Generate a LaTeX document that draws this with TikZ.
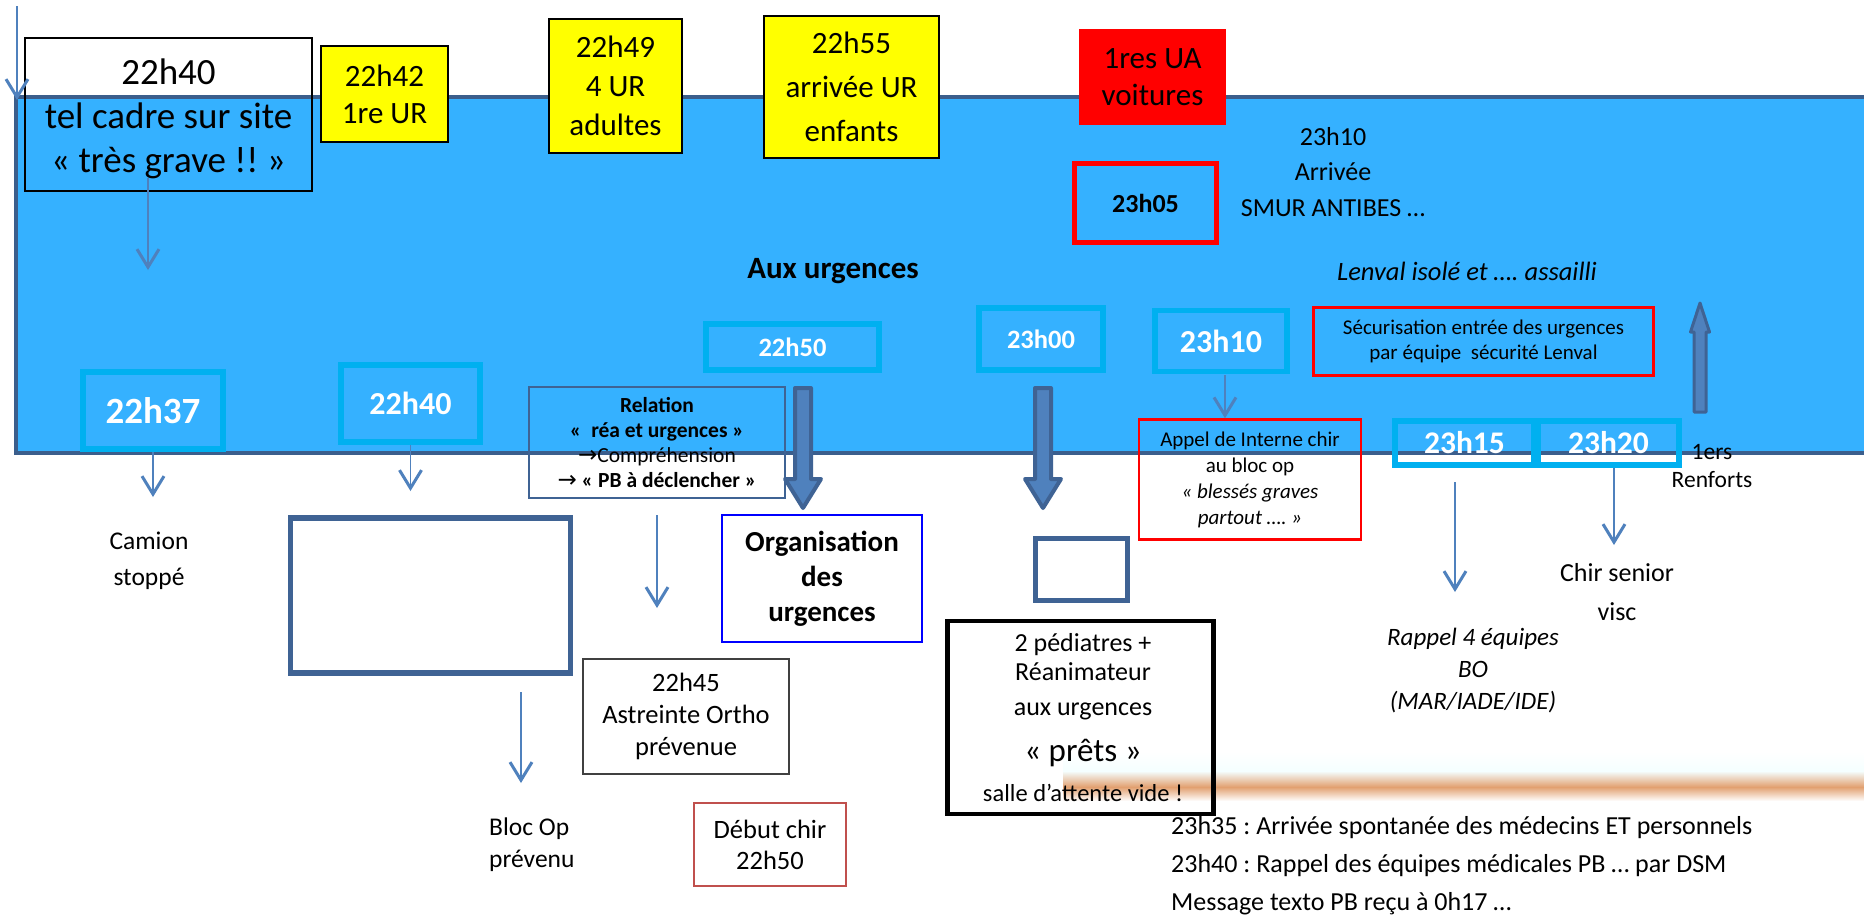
\documentclass[tikz,border=0pt]{standalone}
\usepackage{fontspec}
\setmainfont{Carlito}
\newfontfamily\dejavu{DejaVu Sans}
\usetikzlibrary{arrows.meta,calc}
\frenchspacing
\definecolor{bgblue}{RGB}{53,177,255}
\definecolor{rimblue}{RGB}{59,94,140}
\definecolor{cyanbox}{RGB}{0,176,240}
\definecolor{arrblue}{RGB}{79,129,189}
\definecolor{slate}{RGB}{63,99,148}
\definecolor{brickred}{RGB}{192,80,77}
\definecolor{bandor}{RGB}{226,160,112}
\definecolor{ygold}{RGB}{255,255,0}
\newcommand\fs[2]{\fontsize{#1}{#2}\selectfont}
\newcommand\rarr{{\dejavu\fontsize{23}{25}\selectfont →}}
\begin{document}
\begin{tikzpicture}[x=1pt,y=-1pt,
  bx/.style 2 args={minimum width=#1pt, minimum height=#2pt, inner sep=0pt, align=center},
  cb/.style={draw=cyanbox, line width=5.5pt, text=white},
  yb/.style={draw=black, fill=ygold, line width=1.6pt},
  txt/.style={inner sep=0pt, align=center},
  varrow/.style={draw=arrblue, line width=1.8pt, -{Straight Barb[length=18pt,width=22pt,line width=3pt]}},
  fatarrow/.pic={\draw[fill=arrblue, draw=slate, line width=4pt, line join=round]
     (-8,0) -- (-8,91) -- (-18,91) -- (0,120) -- (18,91) -- (8,91) -- (8,0) -- cycle;}
]
\useasboundingbox (0,0) rectangle (1864,916);
\clip (0,0) rectangle (1864,916);
\fill[white] (0,0) rectangle (1864,916);

% main blue area
\fill[bgblue] (16,97) rectangle (1875,453);
\draw[rimblue, line width=4.5pt] (1875,97) -- (16,97) -- (16,453) -- (1875,453);

% orange band
\shade[top color=white, bottom color=cyan!4] (1063,752) rectangle (1870,771);
\shade[top color=cyan!4, bottom color=bandor] (1063,771) rectangle (1870,787);
\shade[top color=bandor, bottom color=white] (1063,787) rectangle (1870,801);

% top boxes
\node[bx={287}{153}, draw=black, line width=1.3pt] (telcadre) at (168.5,114.5) {};
\node[txt, font=\fs{37}{44}] (telcadretxt) at (168.5,119) {22h40\\tel cadre sur site\\« très grave !! »};
\node[bx={127}{96}, yb, font=\fs{31}{37}] (ur1) at (384.5,94) {22h42\\1re UR};
\node[bx={133}{134}, yb, font=\fs{31}{39}] (ur4) at (615.5,86) {22h49\\4 UR\\adultes};
\node[bx={175}{142}, yb, font=\fs{31}{44}] (urenf) at (851.5,87) {22h55\\arrivée UR\\enfants};
\node[bx={147}{96}, fill=red, font=\fs{31}{37}] (ua) at (1152.5,77) {1res UA\\voitures};
\node[bx={142}{79}, draw=red, line width=5pt, font=\fs{26}{30}\bfseries] (h2305) at (1145.5,203) {23h05};
\node[txt, font=\fs{26}{35.5}] (smur) at (1333,172) {23h10\\Arrivée\\SMUR ANTIBES …};
\node[txt, font=\fs{26.5}{30}\itshape] (lenval) at (1467,271) {Lenval isolé et …. assailli};
\node[txt, font=\fs{31}{35}\bfseries] (auxurg) at (833,271) {Aux urgences};
\node[bx={340}{68}, draw=red, line width=3pt, font=\fs{21}{25}] (secu) at (1483.5,341.5) {Sécurisation entrée des urgences\\par équipe\ \ sécurité Lenval};

% cyan time boxes
\node[bx={140}{77}, cb, font=\fs{37}{44}\bfseries] (c2237) at (153,410.5) {22h37};
\node[bx={139}{77}, cb, font=\fs{32}{38}\bfseries] (c2240) at (410.5,403.5) {22h40};
\node[bx={173}{46}, cb, font=\fs{26.5}{32}\bfseries] (c2250) at (792.5,347) {22h50};
\node[bx={124}{62}, cb, font=\fs{26.5}{32}\bfseries] (c2300) at (1041,339) {23h00};
\node[bx={132}{61}, cb, font=\fs{32}{38}\bfseries] (c2310) at (1221,341) {23h10};
\node[bx={139}{44}, cb, font=\fs{31.5}{36}\bfseries] (c2315) at (1464.5,443) {23h15};
\node[bx={141}{44}, cb, font=\fs{31.5}{36}\bfseries] (c2320) at (1608.5,443) {23h20};

% relation box
\node[bx={256}{111}, draw=slate, line width=2.2pt, font=\fs{21.5}{25.3}] (relation) at (657,442.5)
  {\textbf{Relation}\\\textbf{«~ réa et urgences »}\\\rarr Compréhension\\\rarr\ \textbf{« PB à déclencher »}};

% thick arrows
\pic at (803,388) {fatarrow};
\pic at (1043,388) {fatarrow};
\draw[fill=arrblue, draw=slate, line width=3pt, line join=round]
  (1694,412) -- (1694,332) -- (1690.5,332) -- (1700,303) -- (1709.5,332) -- (1706,332) -- (1706,412) -- cycle;

% lower boxes
\node[bx={200}{127}, draw=blue, line width=2.5pt, fill=white, font=\fs{29}{35}\bfseries] (orga) at (822,578.5) {Organisation\\des\\urgences};
\node[bx={92}{62}, draw=slate, line width=5pt, fill=white] (smallbox) at (1081.5,569) {};
\node[bx={280}{155}, draw=slate, line width=5.5pt, fill=white] (emptybox) at (430.5,595.5) {};
\node[bx={206}{115}, draw=black!75, line width=1.6pt, font=\fs{26.5}{32}] (ortho) at (686,716.5) {22h45\\Astreinte Ortho\\prévenue};
\node[bx={152}{83}, draw=brickred, line width=2pt, font=\fs{26.5}{31}] (debut) at (770,844.5) {Début chir\\22h50};
\node[bx={266}{193}, draw=black, line width=4.5pt] (pedia) at (1080.5,717.5) {};
\node[txt, font=\fs{26}{28}] (p1) at (1083,645) {2 pédiatres +};
\node[txt, font=\fs{26}{28}] (p2) at (1083,672) {Réanimateur};
\node[txt, font=\fs{26}{28}] (p3) at (1083,711) {aux urgences};
\node[txt, font=\fs{33}{36}] (p4) at (1083,753) {« prêts »};
\node[txt, font=\fs{24.5}{28}] (p5) at (1083,793) {salle d’attente vide !};
\node[bx={222}{120}, draw=red, line width=2.5pt, font=\fs{21}{26}] (appel) at (1250,479.5)
  {Appel de Interne chir\\au bloc op\\\textit{« blessés graves}\\\textit{partout …. »}};

% free texts
\node[txt, font=\fs{25.5}{36}] (camion) at (149,561) {Camion\\stoppé};
\node[txt, font=\fs{25.5}{32}, anchor=west, align=left] (blocop) at (489,845) {Bloc Op\\prévenu};
\node[txt, font=\fs{25}{32}\itshape] (rappel) at (1473,671) {Rappel 4 équipes\\BO\\(MAR/IADE/IDE)};
\node[txt, font=\fs{26}{39}] (chir) at (1617,592) {Chir senior\\visc};
\node[txt, font=\fs{23.5}{28}] (renforts) at (1712,466) {1ers\\Renforts};
\node[txt, font=\fs{26}{38}, anchor=west, align=left] (bottomtxt) at (1171,866)
  {23h35 : Arrivée spontanée des médecins ET personnels\\23h40 : Rappel des équipes médicales PB … par DSM\\Message texto PB reçu à 0h17 …};

% thin arrows
\coordinate (tl0) at (17,6);
\coordinate (tl1) at (17,100);
\draw[varrow] (tl0) -- (tl1);
\coordinate (ta0) at (148,178);
\coordinate (ta1) at (148,270);
\draw[varrow] (ta0) -- (ta1);
\coordinate (tb1) at (153,497);
\draw[varrow] (c2237.south) -- (tb1);
\coordinate (tc1) at (410.5,491);
\draw[varrow] (c2240.south) -- (tc1);
\coordinate (td0) at (521,692);
\coordinate (td1) at (521,783);
\draw[varrow] (td0) -- (td1);
\coordinate (te0) at (657,515);
\coordinate (te1) at (657,608);
\draw[varrow] (te0) -- (te1);
\coordinate (th0) at (1225,375);
\draw[varrow] (th0) -- (th0 |- appel.north);
\coordinate (tf0) at (1455,482);
\coordinate (tf1) at (1455,592);
\draw[varrow] (tf0) -- (tf1);
\coordinate (tg0) at (1614,468);
\coordinate (tg1) at (1614,545);
\draw[varrow] (tg0) -- (tg1);
\end{tikzpicture}
\end{document}
